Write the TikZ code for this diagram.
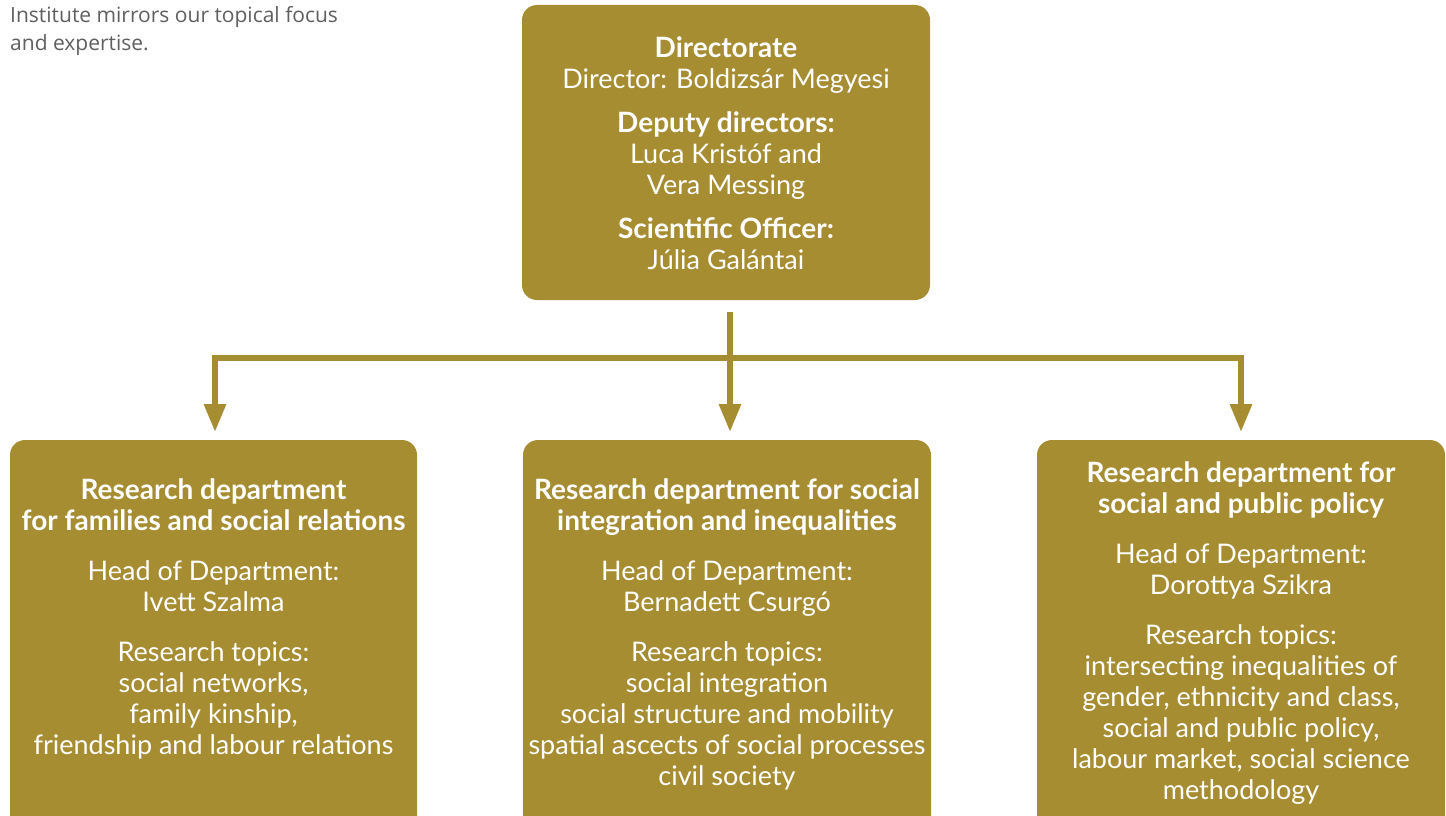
\documentclass[tikz,border=0pt]{standalone}
\usepackage{fontspec}
\setmainfont{Lato}
\newfontfamily\introfont{Open Sans}
\usetikzlibrary{arrows.meta}
\definecolor{gold}{RGB}{166,141,50}
\definecolor{introgray}{RGB}{95,95,95}
\newcommand{\hd}[1]{{\fontsize{28}{31}\selectfont\bfseries #1}}
\tikzset{
  orgbox/.style={fill=gold, draw=none, rounded corners=15pt, inner sep=0pt},
  orgtext/.style={text=white, align=center, inner sep=0pt, anchor=north,
    font=\fontsize{27}{31}\selectfont},
  link/.style={draw=gold, line width=6pt},
  arrowlink/.style={link, -{Triangle[length=28pt,width=21pt]}},
}
\begin{document}
\begin{tikzpicture}[x=1pt,y=-1pt]
\useasboundingbox (0,0) rectangle (1446,816);
\clip (0,0) rectangle (1446,816);
\fill[white] (0,0) rectangle (1446,816);

\node[anchor=north west, inner sep=0pt, align=left, text=introgray,
  font=\introfont\fontsize{21}{28}\selectfont] (intro) at (10,6)
  {Institute mirrors our topical focus\\and expertise.};

% boxes
\path[orgbox] (522,5) rectangle (930,300);
\node[inner sep=0pt, minimum width=408pt, minimum height=295pt] (top) at (726,152.5) {};
\path[orgbox] (10,440) rectangle (417,840);
\node[inner sep=0pt, minimum width=407pt, minimum height=400pt] (left) at (213.5,640) {};
\path[orgbox] (523,440) rectangle (931,840);
\node[inner sep=0pt, minimum width=408pt, minimum height=400pt] (mid) at (727,640) {};
\path[orgbox] (1037,440) rectangle (1445,840);
\node[inner sep=0pt, minimum width=408pt, minimum height=400pt] (right) at (1241,640) {};

% texts
\node[orgtext] (toptext) at (726,37) {\hd{Directorate}\\Director: Boldizsár Megyesi\\[13pt]
  \hd{Deputy directors:}\\Luca Kristóf and\\Vera Messing\\[13pt]
  \hd{Scientific Officer:}\\Júlia Galántai};
\node[orgtext] (lefttext) at (213.5,478) {\hd{Research department}\\\hd{for families and social relations}\\[19pt]
  Head of Department:\\Ivett Szalma\\[19pt]
  Research topics:\\social networks,\\family kinship,\\friendship and labour relations};
\node[orgtext] (midtext) at (727,478) {\hd{Research department for social}\\\hd{integration and inequalities}\\[19pt]
  Head of Department:\\Bernadett Csurgó\\[19pt]
  Research topics:\\social integration\\social structure and mobility\\spatial ascects of social processes\\civil society};
\node[orgtext] (righttext) at (1241,461) {\hd{Research department for}\\\hd{social and public policy}\\[19pt]
  Head of Department:\\Dorottya Szikra\\[19pt]
  Research topics:\\intersecting inequalities of\\gender, ethnicity and class,\\social and public policy,\\labour market, social science\\methodology};

% connectors
\coordinate (busL) at (215,358);
\coordinate (busR) at (1241,358);
\draw[link] ([xshift=-3pt]busL) -- ([xshift=3pt]busR);
\draw[arrowlink] ([xshift=4pt]top.south |- 0,312) -- ([xshift=4pt]top.south |- 0,432);
\draw[arrowlink] (busL) -- (busL |- 0,432);
\draw[arrowlink] (busR) -- (busR |- 0,432);
\end{tikzpicture}
\end{document}
